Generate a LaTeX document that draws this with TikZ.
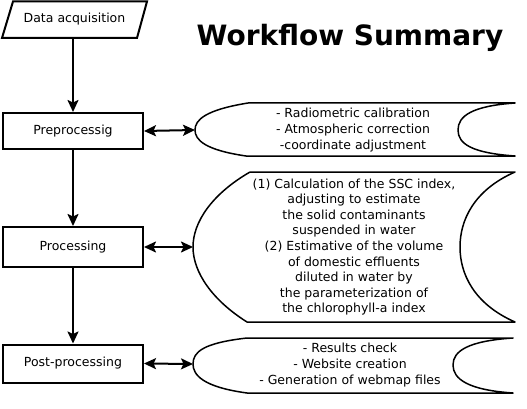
\documentclass[tikz,border=0pt]{standalone}
\usepackage{fontspec}
\setmainfont{DejaVu Sans}
\usetikzlibrary{arrows.meta}

\tikzset{
  stepbox/.style={draw, line width=2pt, minimum width=140pt, inner sep=0pt,
    font=\fontsize{12.5}{15.8}\selectfont},
  inputbox/.style={minimum width=124pt, minimum height=37pt, inner sep=0pt,
    font=\fontsize{12.5}{15.8}\selectfont},
  notebox/.style={line width=1.5pt, line join=round},
  notetext/.style={align=center, inner sep=0pt, font=\fontsize{12.5}{15.6}\selectfont},
  flowarrow/.style={line width=2pt, -{Stealth[length=12pt,width=11pt,inset=2.5pt]}},
  linkarrow/.style={line width=2pt,
    {Stealth[length=12pt,width=11pt,inset=2.5pt]}-{Stealth[length=12pt,width=11pt,inset=2.5pt]}}
}

\begin{document}
\begin{tikzpicture}[x=1pt,y=-1pt]
\useasboundingbox (0,0) rectangle (527,409);
% left column
\node[inputbox] (acq) at (74.5,19.5) {Data acquisition};
\draw[line width=2pt] (13,1.5) -- (147,1.5) -- (137,38) -- (2,38) -- cycle;
\node[stepbox, minimum height=36pt] (pre) at (73,131) {Preprocessig};
\node[stepbox, minimum height=40pt] (proc) at (73,247) {Processing};
\node[stepbox, minimum height=38pt] (post) at (73,363.5) {Post-processing};
\draw[flowarrow] (acq.south -| pre.north) -- (pre.north);
\draw[flowarrow] (pre.south) -- (proc.north);
\draw[flowarrow] (proc.south) -- (post.north);
% title
\node[font=\fontsize{28}{34}\selectfont\bfseries] (title) at (350,38) {Workflow Summary};
% notes on the right
\draw[notebox] (248,103) -- (515,103)
  .. controls (472,106) and (458,116) .. (458,130)
  .. controls (458,144) and (472,153) .. (515,156)
  -- (246,156)
  .. controls (205,150) and (195,140) .. (195,130)
  .. controls (195,120) and (205,110) .. (248,103);
\coordinate (pretip) at (195,130);
\node[notetext] (prenote) at (353,130) {- Radiometric calibration\\- Atmospheric correction\\-coordinate adjustment};
\draw[notebox] (250,172) -- (515,172)
  .. controls (474,190) and (460,220) .. (460,247)
  .. controls (460,274) and (474,304) .. (515,322)
  -- (247,322)
  .. controls (212,300) and (193,272) .. (193,247)
  .. controls (193,222) and (212,194) .. (250,172);
\coordinate (proctip) at (193,247);
\node[notetext] (procnote) at (354,247) {(1) Calculation of the SSC index,\\adjusting to estimate\\the solid contaminants\\suspended in water\\(2) Estimative of the volume\\of domestic effluents\\diluted in water by\\the parameterization of\\the chlorophyll-a index};
\draw[notebox] (247,338) -- (513,338)
  .. controls (468,341) and (453,351) .. (453,365)
  .. controls (453,379) and (468,390) .. (513,393)
  -- (247,393)
  .. controls (203,387) and (193,375) .. (193,364)
  .. controls (193,352) and (203,343) .. (247,338);
\coordinate (posttip) at (193,364);
\node[notetext] (postnote) at (350,365) {- Results check\\- Website creation\\- Generation of webmap files};
\draw[linkarrow] (pre.east) -- (pretip);
\draw[linkarrow] (proc.east) -- (proctip);
\draw[linkarrow] (post.east) -- (posttip);
\end{tikzpicture}
\end{document}
